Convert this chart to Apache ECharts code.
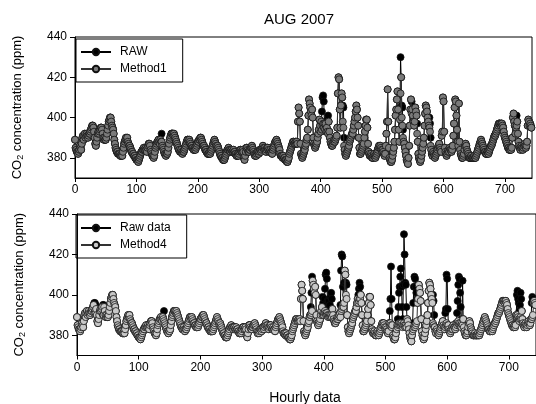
<!DOCTYPE html>
<html><head><meta charset="utf-8">
<script src="https://cdn.jsdelivr.net/npm/echarts@6/dist/echarts.min.js"></script>
<style>html,body{margin:0;padding:0;background:#fff}#c{width:536px;height:404px}</style>
</head><body><div id="c"></div>
<script>
// ---- data ----
const chartTitle = 'AUG 2007';
const xTicks = [0, 100, 200, 300, 400, 500, 600, 700];
const yTicks = [380, 400, 420, 440];

// raw hourly CO2 (ppm), one row per day (24 hours)
const rawDays = [
[389,385,384,383,383,382,383,384,386,385,384,387,390,391,389,391,392,390,391,392,391,390,391,392],
[392,393,394,395,396,396,395,393,390,387,386,388,390,392,393,392,393,394,395,395,394,392,390,389],
[390,389,389,390,392,394,396,398,399,400,400,398,396,395,394,392,389,387,385,384,383,383,382,382],
[382,382,381,381,382,381,383,385,387,388,389,390,389,390,388,387,386,386,385,384,383,383,382,382],
[381,381,380,380,379,379,379,378,379,380,381,382,383,383,384,384,385,384,384,385,384,383,385,386],
[387,387,386,384,383,382,381,381,380,381,383,385,386,387,388,388,389,388,387,389,388,392,386,385],
[384,383,382,382,381,382,382,383,385,387,389,390,391,392,392,392,391,392,391,390,389,388,387,386],
[385,384,384,383,383,384,383,382,383,383,384,385,386,387,388,389,389,388,389,388,387,386,386,385],
[385,384,384,385,384,385,386,387,388,388,389,389,390,390,389,388,387,386,386,385,384,384,383,383],
[382,382,382,383,382,383,384,385,386,387,388,389,388,387,386,385,386,385,384,383,382,381,381,380],
[380,379,379,379,380,381,382,383,384,384,385,384,384,383,384,384,383,383,384,383,383,382,382,381],
[381,382,381,382,383,384,384,383,383,384,383,380,379,381,383,385,385,384,383,383,384,384,385,385],
[386,385,384,383,382,381,382,381,382,383,383,382,383,384,384,383,384,385,386,385,384,385,384,383],
[384,385,385,384,383,383,384,383,383,382,384,385,386,387,388,388,389,388,387,386,385,384,382,381],
[381,381,380,381,380,380,379,379,379,378,378,379,380,382,383,384,385,386,387,388,388,387,387,388],
[387,388,387,398,405,402,398,387,382,381,380,381,382,383,384,386,387,389,390,394,401,409,407,405],
[403,401,404,400,390,387,386,385,386,387,388,390,392,394,399,396,393,398,403,410,411,408,397,394],
[397,393,395,399,401,398,393,390,388,387,386,386,387,388,389,388,389,390,391,395,412,420,419,404],
[395,406,412,410,406,405,390,384,382,381,382,383,384,385,386,388,389,390,391,392,392,394,396,398],
[400,403,406,404,400,396,390,385,382,382,383,384,385,386,387,390,393,396,399,399,395,387,383,382],
[381,381,382,381,380,380,381,382,381,380,381,382,383,384,385,386,385,386,385,384,383,384,383,382],
[381,382,386,392,398,414,398,385,380,379,378,378,379,381,383,385,388,394,401,404,409,413,404,394],
[388,405,430,420,406,405,394,388,387,385,383,381,379,378,377,380,386,396,404,409,408,404,401,398],
[396,398,405,403,401,397,388,382,380,379,378,379,381,383,385,387,390,396,402,406,405,403,400,398],
[396,400,397,390,384,382,381,383,382,381,380,381,382,383,384,385,386,387,385,384,383,391,393,410],
[408,393,385,383,382,381,382,383,384,383,385,384,384,383,384,386,391,397,405,409,408,401,394,388],
[386,407,388,384,382,381,380,380,381,382,384,386,387,386,384,383,382,381,380,380,380,381,380,380],
[380,380,381,380,380,381,382,383,384,385,386,387,388,389,388,387,386,385,384,383,383,382,382,383],
[383,382,383,384,385,386,386,387,388,389,390,391,391,392,393,394,395,396,397,397,397,396,397,397],
[396,395,393,391,390,389,388,387,386,385,385,384,384,385,384,385,390,400,402,398,396,392,395,401],
[398,392,388,386,385,384,385,386,385,384,385,386,387,386,385,386,388,396,399,398,396,397,396,395]
];

// hours where the corrected series differ from the raw data: [hour, ppm]
const method1Edits = [
[141,388],[402,394],[403,396],[404,397],[405,395],[411,393],[412,392],
[436,398],[437,395],[438,386],[529,399],[530,412],[532,400],[533,396],[534,390],
[548,402],[557,392],[577,395],[578,393],[579,386],[719,396]
];
const method4Edits = [
[28,391],[29,392],[30,391],[42,390],[43,390],[141,387],
[379,390],[380,391],[381,392],
[398,390],[399,391],[400,390],[401,391],[402,392],[403,391],[404,390],[405,391],[406,390],[407,389],
[408,390],[409,389],[410,390],[411,389],[412,390],[413,389],
[427,389],[428,392],[429,393],[430,394],[431,395],[432,394],[433,396],[436,400],[437,398],
[456,396],[457,397],[458,398],[459,398],
[507,385],[508,386],[509,385],[510,384],
[520,384],[521,385],[522,386],[523,385],[524,386],[525,385],[526,386],[527,385],[528,384],
[529,385],[530,386],[531,385],[532,384],[533,385],[534,384],
[544,382],[545,383],[546,384],[547,385],[548,384],[549,385],[550,386],[551,387],
[577,386],[578,385],[579,384],
[597,384],[598,385],[599,386],[600,385],[601,384],
[616,385],[617,386],[618,387],[619,386],[620,385],[621,386],[622,385],[623,384],[625,385],
[713,389],[714,390],[715,389],[716,388],[717,387],[718,388],[719,389],[720,388],
[737,388],[738,389],[739,390]
];

// ---- build ----
const raw = rawDays.flat();
function withEdits(base, edits) { const a = base.slice(); edits.forEach(([h, v]) => { a[h] = v; }); return a; }
const method1 = withEdits(raw, method1Edits);
const method4 = withEdits(raw, method4Edits);
const pairs = arr => arr.map((v, i) => [i, v]);

const FONT = 'Liberation Sans, Arial, sans-serif';
const yName = 'CO{sub|2} concentration (ppm)';

function xAxisCfg(idx) {
  return {
    type: 'value', gridIndex: idx, min: 0, max: 744,
    axisLine: { show: true, onZero: false, lineStyle: { color: '#000', width: 1 } },
    axisTick: { show: true, inside: false, length: 4, customValues: xTicks, lineStyle: { color: '#000' } },
    axisLabel: { customValues: xTicks, color: '#000', fontSize: 12, fontFamily: FONT, margin: 6 },
    splitLine: { show: false }
  };
}
function yAxisCfg(idx) {
  return {
    type: 'value', gridIndex: idx, min: 370, max: 440,
    axisLine: { show: true, lineStyle: { color: '#000', width: 1 } },
    axisTick: { show: true, length: 5, customValues: yTicks, lineStyle: { color: '#000' } },
    axisLabel: { customValues: yTicks, color: '#000', fontSize: 12, fontFamily: FONT, margin: 8 },
    splitLine: { show: false },
    name: yName, nameLocation: 'middle', nameGap: 50,
    nameTextStyle: { color: '#000', fontSize: 13, fontFamily: FONT,
      rich: { sub: { fontSize: 9, fontFamily: FONT, color: '#000', verticalAlign: 'bottom', padding: [6, 0, 0, 0] } } }
  };
}
function lineSeries(name, data, idx, fill, lineColor, z) {
  return {
    name, type: 'line', data: pairs(data), xAxisIndex: idx, yAxisIndex: idx,
    symbol: 'circle', symbolSize: 7, showSymbol: true, showAllSymbol: true,
    lineStyle: { color: lineColor, width: 1 },
    itemStyle: { color: fill, borderColor: '#111', borderWidth: 0.8 },
    emphasis: { disabled: true }, z
  };
}
function legendCfg(names, top, left) {
  return {
    data: names, orient: 'vertical', left, top,
    borderColor: '#000', borderWidth: 1, padding: [7, 16, 7, 4],
    itemWidth: 30, itemHeight: 8, itemGap: 5,
    textStyle: { color: '#000', fontSize: 12, fontFamily: FONT, padding: [0, 0, 0, 4] },
    selectedMode: false
  };
}

const chart = echarts.init(document.getElementById('c'), null, { renderer: 'canvas' });
chart.setOption({
  animation: false,
  backgroundColor: '#fff',
  title: [
    { text: chartTitle, left: 294, top: 7, textAlign: 'center',
      textStyle: { color: '#000', fontSize: 15, fontWeight: 'normal', fontFamily: FONT } },
    { text: 'Hourly data', left: 300, top: 386, textAlign: 'center',
      textStyle: { color: '#000', fontSize: 14, fontWeight: 'normal', fontFamily: FONT } }
  ],
  grid: [
    { left: 75, top: 37, width: 457, height: 141, show: true, borderColor: '#000', borderWidth: 1, backgroundColor: 'transparent' },
    { left: 77, top: 214, width: 461, height: 141.5, show: true, borderColor: '#000', borderWidth: 1, backgroundColor: 'transparent' }
  ],
  legend: [
    legendCfg(['RAW', 'Method1'], 39, 76),
    legendCfg(['Raw data', 'Method4'], 215, 76)
  ],
  xAxis: [xAxisCfg(0), xAxisCfg(1)],
  yAxis: [yAxisCfg(0), yAxisCfg(1)],
  series: [
    lineSeries('RAW', raw, 0, '#000', '#000', 2),
    lineSeries('Method1', method1, 0, '#7a7a7a', '#333', 3),
    lineSeries('Raw data', raw, 1, '#000', '#000', 2),
    lineSeries('Method4', method4, 1, '#c8c8c8', '#333', 3)
  ]
});
</script>
</body></html>
